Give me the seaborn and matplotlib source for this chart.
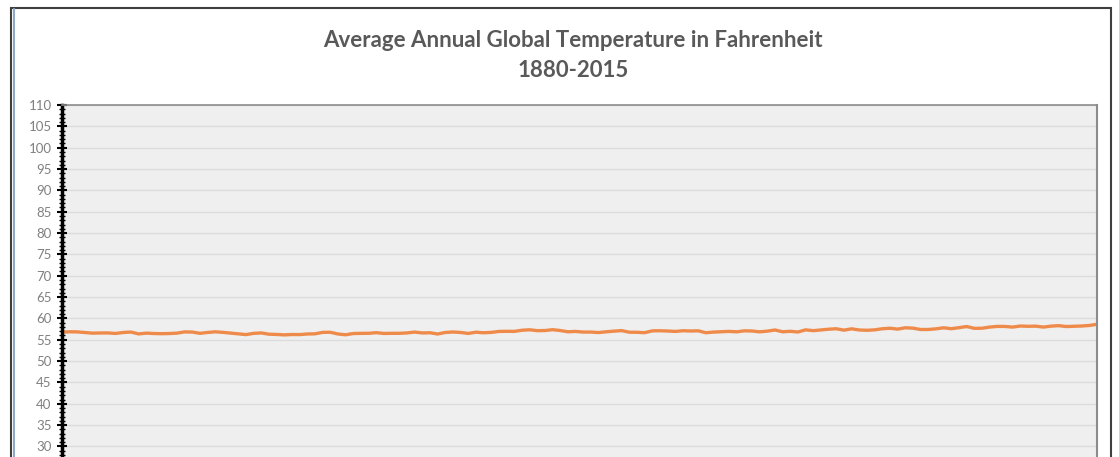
import numpy as np
import pandas as pd
import matplotlib
matplotlib.use("Agg")
import matplotlib.pyplot as plt
from matplotlib.patches import Rectangle
from matplotlib.lines import Line2D
from matplotlib.ticker import MultipleLocator
import seaborn as sns

# average annual global temperature, deg F, 1880-2015
years = list(range(1880, 2016))
temps_f = [
    56.78, 56.87, 56.84, 56.69, 56.55, 56.59, 56.60, 56.48, 56.71, 56.80,  # 1880s
    56.37, 56.55, 56.46, 56.42, 56.46, 56.55, 56.84, 56.80, 56.51, 56.71,  # 1890s
    56.86, 56.73, 56.55, 56.35, 56.21, 56.50, 56.60, 56.30, 56.24, 56.14,  # 1900s
    56.23, 56.21, 56.35, 56.39, 56.73, 56.75, 56.35, 56.17, 56.46, 56.50,  # 1910s
    56.51, 56.66, 56.48, 56.51, 56.51, 56.60, 56.80, 56.60, 56.64, 56.35,  # 1920s
    56.71, 56.82, 56.71, 56.48, 56.77, 56.64, 56.73, 56.95, 56.98, 56.96,  # 1930s
    57.23, 57.34, 57.13, 57.16, 57.36, 57.16, 56.87, 56.95, 56.80, 56.80,  # 1940s
    56.69, 56.87, 57.02, 57.14, 56.77, 56.75, 56.66, 57.09, 57.11, 57.05,  # 1950s
    56.95, 57.11, 57.05, 57.09, 56.64, 56.80, 56.89, 56.96, 56.86, 57.09,  # 1960s
    57.05, 56.86, 57.02, 57.29, 56.87, 56.98, 56.82, 57.32, 57.13, 57.29,  # 1970s
    57.47, 57.58, 57.25, 57.56, 57.29, 57.22, 57.32, 57.58, 57.70, 57.49,  # 1980s
    57.81, 57.72, 57.40, 57.41, 57.56, 57.81, 57.59, 57.83, 58.10, 57.68,  # 1990s
    57.70, 57.97, 58.13, 58.12, 57.97, 58.22, 58.15, 58.19, 57.97, 58.19,  # 2000s
    58.30, 58.10, 58.17, 58.22, 58.35, 58.62,                              # 2010s
]
title = "Average Annual Global Temperature in Fahrenheit\n1880-2015"

df = pd.DataFrame({"Year": years, "Temp": temps_f})

sns.set_style("white", {"axes.facecolor": "#efefef"})
plt.rcParams["font.family"] = ["Lato", "DejaVu Sans"]

fig = plt.figure(figsize=(11.19, 4.57), dpi=100)
# the screenshot is cropped just below the 30 gridline
ax = fig.add_axes([0.0554, 0.0, 0.9249, 0.7702])

sns.lineplot(data=df, x="Year", y="Temp", color="#ef8b4a", linewidth=2.4, ax=ax)

ax.set_xlim(1880, 2015)
ax.set_ylim(27.53, 110)
ax.yaxis.set_major_locator(MultipleLocator(5))
ax.yaxis.set_minor_locator(MultipleLocator(1))
ax.grid(axis="y", which="major", color="#dcdcdc", linewidth=1.0)
ax.set_axisbelow(True)
ax.set_xticks([])
ax.set_xlabel("")
ax.set_ylabel("")

ax.tick_params(axis="y", which="major", direction="inout", length=7, width=1.5,
               color="black", labelsize=9.5, labelcolor="#808080", pad=4, left=True)
ax.tick_params(axis="y", which="minor", direction="inout", length=5, width=1.0,
               color="black", left=True)

ax.spines["left"].set_color("black")
ax.spines["left"].set_linewidth(2.5)
ax.spines["top"].set_color("#8c8c8c")
ax.spines["top"].set_linewidth(1.2)
ax.spines["right"].set_color("#8c8c8c")
ax.spines["right"].set_linewidth(1.5)
ax.spines["bottom"].set_visible(False)

fig.text(0.512, 0.879, title, ha="center", va="center", fontsize=16,
         fontweight="bold", color="#595959", linespacing=1.5)

# outer chart frame (cropped at bottom)
fig.patches.append(Rectangle((11 / 1119, -0.2), 1100 / 1119, 1.2 - 8 / 457,
                             transform=fig.transFigure, fill=False,
                             edgecolor="#3f3f3f", linewidth=1.5))
fig.lines.append(Line2D([13.5 / 1119, 13.5 / 1119], [0, 1 - 9 / 457],
                        transform=fig.transFigure, color="#8faac8", linewidth=1.5))

fig.savefig("out.png", dpi=100)
